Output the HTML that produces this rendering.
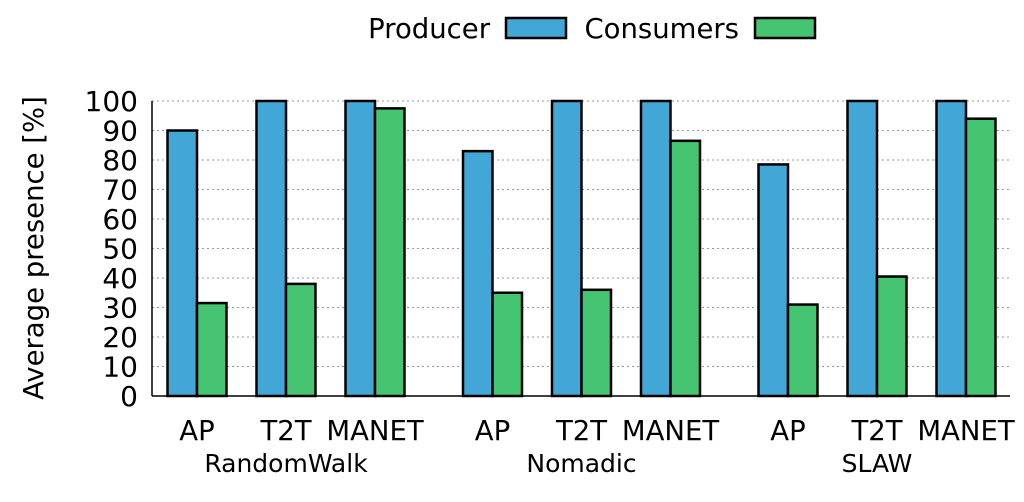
<!DOCTYPE html>
<html><head><meta charset="utf-8"><style>
body{margin:0;background:#fff;width:1024px;height:497px;overflow:hidden}
text{font-family:"DejaVu Sans","Liberation Sans",sans-serif;fill:#000}
</style></head><body>
<svg id="chart" width="1024" height="497" viewBox="0 0 1024 497" xmlns="http://www.w3.org/2000/svg">
<g id="grid"></g>
<g id="bars"></g>
<g id="axes"></g>
<g>
<text x="490" y="38" font-size="27.5" text-anchor="end">Producer</text>
<rect x="506" y="18" width="60" height="20" fill="#42a7d6" stroke="#000" stroke-width="2.5"/>
<text x="739" y="38" font-size="27.5" text-anchor="end">Consumers</text>
<rect x="755" y="18" width="60" height="20" fill="#45c572" stroke="#000" stroke-width="2.5"/>
</g>
<text transform="translate(43,248) rotate(-90)" font-size="27.5" text-anchor="middle">Average presence [%]</text>
</svg>
<script>
const groups=["RandomWalk","Nomadic","SLAW"];
const categories=["AP","T2T","MANET"];
const producer=[[90,100,100],[83,100,100],[78.5,100,100]];
const consumers=[[31.5,38,97.5],[35,36,86.5],[31,40.5,94]];
const yTicks=[0,10,20,30,40,50,60,70,80,90,100];
const NS="http://www.w3.org/2000/svg";
const x0=152,x1=1010,yB=396,yT=101;
function y(v){return yB-(v/100)*(yB-yT);}
function xc(g,i){return 197+g*295.5+i*89;}
function el(tag,attrs,parent,txt){const e=document.createElementNS(NS,tag);for(const k in attrs)e.setAttribute(k,attrs[k]);if(txt!==undefined)e.textContent=txt;parent.appendChild(e);return e;}
const grid=document.getElementById('grid'),bars=document.getElementById('bars'),axes=document.getElementById('axes');
yTicks.forEach(t=>{
  if(t>0){const l=el('line',{x1:x0,x2:x1,y1:y(t),y2:y(t),stroke:'#999','stroke-width':1,'stroke-dasharray':'2,3'},grid);
  
  }
  const tx=el('text',{x:138,y:y(t)+10,'font-size':28,'text-anchor':'end'},axes,String(t));
  
  
});
groups.forEach((gname,g)=>{
  categories.forEach((c,i)=>{
    const cx=xc(g,i);
    const p=el('rect',{x:cx-29.5,y:y(producer[g][i]),width:29.5,height:yB-y(producer[g][i]),fill:'#42a7d6',stroke:'#000','stroke-width':2.5},bars);
    
    
    const q=el('rect',{x:cx,y:y(consumers[g][i]),width:29.5,height:yB-y(consumers[g][i]),fill:'#45c572',stroke:'#000','stroke-width':2.5},bars);
    
    
    const t=el('text',{x:cx,y:440,'font-size':27.5,'text-anchor':'middle'},axes,c);
    
    
  });
  const gl=el('text',{x:xc(g,1),y:472,'font-size':25,'text-anchor':'middle'},axes,gname);
  
  
});
const ya=el('line',{x1:x0,x2:x0,y1:yT,y2:yB,stroke:'#000','stroke-width':1.5},axes);


const xa=el('line',{x1:x0,x2:x1,y1:yB,y2:yB,stroke:'#000','stroke-width':1.5},axes);


</script>
</body></html>
